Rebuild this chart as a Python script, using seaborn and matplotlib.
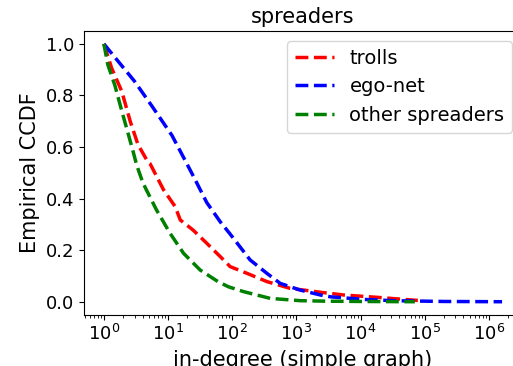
import numpy as np
import pandas as pd
import matplotlib
matplotlib.use("Agg")
import matplotlib.pyplot as plt
import seaborn as sns

# empirical CCDF (in-degree, fraction >= degree)
trolls_deg = [1, 1.32, 1.9, 2.57, 3.39, 4.9, 5.25, 8.5, 12.9, 15.5, 24.5, 40, 65, 93, 170, 347, 794,
              2500, 5500, 18200, 60000, 78000]
trolls_ccdf = [1.0, 0.906, 0.816, 0.70, 0.61, 0.54, 0.535, 0.434, 0.369, 0.317, 0.278, 0.227, 0.175,
               0.136, 0.11, 0.078, 0.052, 0.036, 0.026, 0.017, 0.007, 0.005]

ego_deg = [1, 3.0, 5.56, 11.5, 17.4, 25, 40, 65, 93, 190, 347, 560, 1150, 2370, 3400, 11200, 33000,
           200000, 1600000]
ego_ccdf = [1.0, 0.855, 0.76, 0.645, 0.56, 0.485, 0.385, 0.31, 0.262, 0.162, 0.11, 0.071, 0.045,
            0.026, 0.019, 0.009, 0.004, 0.001, 0.0]

other_deg = [1, 1.15, 1.48, 1.9, 2.4, 2.9, 3.24, 4.07, 6.6, 10.7, 17.4, 31.6, 60, 87, 151, 389,
             1150, 3160, 10000, 70000]
other_ccdf = [1.0, 0.92, 0.84, 0.74, 0.65, 0.576, 0.53, 0.46, 0.356, 0.266, 0.188, 0.123, 0.078,
              0.058, 0.039, 0.013, 0.004, 0.002, 0.001, 0.0]

series = [
    ("trolls", trolls_deg, trolls_ccdf, "red"),
    ("ego-net", ego_deg, ego_ccdf, "blue"),
    ("other spreaders", other_deg, other_ccdf, "green"),
]

fig = plt.figure(figsize=(5.13, 3.66), dpi=100)
# the original image is cropped on the right, so the axes run past the edge
ax = fig.add_axes([0.1637, 0.1404, 0.8538, 0.7749])

for name, deg, ccdf, col in series:
    df = pd.DataFrame({"deg": deg, "ccdf": ccdf})
    sns.lineplot(data=df, x="deg", y="ccdf", ax=ax, color=col, linestyle="--",
                 linewidth=2.5, label=name, sort=False, estimator=None)

ax.set_xscale("log")
ax.set_title("spreaders", fontsize=15)
ax.set_xlabel("in-degree (simple graph)", fontsize=15)
ax.set_ylabel("Empirical CCDF", fontsize=15)
ax.tick_params(labelsize=13)
ax.set_yticks([0.0, 0.2, 0.4, 0.6, 0.8, 1.0])
ax.legend(loc="upper right", fontsize=14)

fig.savefig("out.png", dpi=100)
